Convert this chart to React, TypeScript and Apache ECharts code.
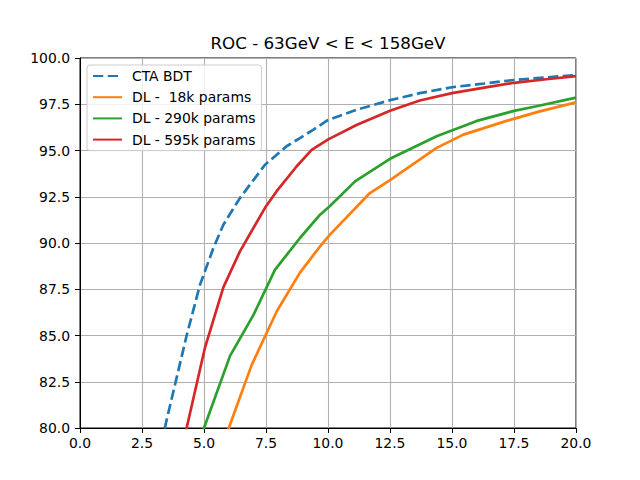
import React, { useEffect, useRef } from "react";
import * as echarts from "echarts";

const bdtX = [3.3, 3.47, 4.3, 4.84, 5.38, 5.78, 6.45, 7.46, 8.33, 8.9, 9.4, 10.0, 11.15, 12.5, 13.7, 15.0, 16.3, 17.5, 18.8, 20];
const bdtY = [79.2, 80.3, 85.0, 87.75, 89.73, 90.99, 92.43, 94.23, 95.23, 95.7, 96.12, 96.65, 97.2, 97.72, 98.1, 98.42, 98.62, 98.81, 98.95, 99.08];

const dl18X = [5.95, 6.0, 6.92, 7.93, 8.87, 9.68, 10.08, 11.69, 12.5, 14.38, 15.46, 17.2, 18.5, 20];
const dl18Y = [79.6, 80.0, 83.4, 86.3, 88.4, 89.82, 90.45, 92.7, 93.4, 95.14, 95.86, 96.6, 97.1, 97.6];

const dl290X = [4.95, 5.0, 6.05, 6.99, 7.86, 8.87, 9.68, 10.08, 11.09, 12.5, 14.38, 16.0, 17.5, 18.41, 20];
const dl290Y = [79.7, 80.0, 83.9, 86.1, 88.55, 90.27, 91.53, 92.0, 93.33, 94.55, 95.77, 96.6, 97.14, 97.39, 97.86];

const dl595X = [4.2, 4.3, 5.04, 5.78, 6.45, 7.46, 7.93, 8.74, 9.34, 10.01, 11.15, 12.5, 13.7, 15.0, 16.3, 17.5, 18.8, 20];
const dl595Y = [79.4, 80.0, 84.35, 87.6, 89.55, 91.9, 92.8, 94.15, 95.03, 95.6, 96.38, 97.15, 97.7, 98.1, 98.4, 98.66, 98.85, 99.02];

const seriesNames = ["CTA BDT", "DL -  18k params", "DL - 290k params", "DL - 595k params"];
const seriesColors = ["#1f77b4", "#ff7f0e", "#2ca02c", "#d62728"];
const title = "ROC - 63GeV < E < 158GeV";

const FONT = "DejaVu Sans";

function pairs(xs: number[], ys: number[]) {
  return xs.map((x, i) => [x, ys[i]]);
}

export default function App() {
  const ref = useRef<HTMLDivElement>(null);
  useEffect(() => {
    if (!ref.current) return;
    const chart = echarts.init(ref.current, undefined, { renderer: "svg" });
    const datasets = [pairs(bdtX, bdtY), pairs(dl18X, dl18Y), pairs(dl290X, dl290Y), pairs(dl595X, dl595Y)];
    chart.setOption({
      animation: false,
      backgroundColor: "#ffffff",
      title: {
        text: title,
        left: 328,
        top: 34,
        textAlign: "center",
        padding: 0,
        textStyle: { fontFamily: FONT, fontSize: 16.7, fontWeight: "normal", color: "#000" },
      },
      legend: {
        orient: "vertical",
        left: 87,
        top: 65,
        padding: [4, 6, 4, 5],
        itemWidth: 29,
        itemHeight: 14,
        itemGap: 7.2,
        backgroundColor: "rgba(255,255,255,0.8)",
        borderColor: "#cccccc",
        borderWidth: 1,
        borderRadius: 3,
        data: seriesNames,
        itemStyle: { opacity: 0, borderWidth: 0 },
        textStyle: { fontFamily: FONT, fontSize: 13.9, color: "#000", padding: [0, 0, 0, 5] },
      },
      grid: {
        left: 80,
        top: 58,
        width: 496,
        height: 370,
        show: true,
        borderColor: "#000",
        borderWidth: 1,
        backgroundColor: "transparent",
      },
      xAxis: {
        type: "value",
        min: 0,
        max: 20,
        interval: 2.5,
        axisLine: { show: true, lineStyle: { color: "#000", width: 1 } },
        axisTick: { show: true, inside: false, length: 5, lineStyle: { color: "#000", width: 1 } },
        axisLabel: {
          margin: 8,
          fontFamily: FONT,
          fontSize: 13.9,
          color: "#000",
          formatter: (v: number) => v.toFixed(1),
        },
        splitLine: { show: true, lineStyle: { color: "#b0b0b0", width: 1.1 } },
      },
      yAxis: {
        type: "value",
        min: 80,
        max: 100,
        interval: 2.5,
        axisLine: { show: true, lineStyle: { color: "#000", width: 1 } },
        axisTick: { show: true, inside: false, length: 5, lineStyle: { color: "#000", width: 1 } },
        axisLabel: {
          margin: 10,
          fontFamily: FONT,
          fontSize: 13.9,
          color: "#000",
          formatter: (v: number) => v.toFixed(1),
        },
        splitLine: { show: true, lineStyle: { color: "#b0b0b0", width: 1.1 } },
      },
      series: seriesNames.map((name, i) => ({
        name,
        type: "line",
        data: datasets[i],
        symbol: "none",
        showSymbol: false,
        clip: true,
        color: seriesColors[i],
        lineStyle: {
          color: seriesColors[i],
          width: 2.7,
          type: i === 0 ? [10.3, 4.4] : "solid",
          cap: "butt",
        },
        z: 2 + i,
      })),
    });
    return () => chart.dispose();
  }, []);
  return (
    <div
      ref={ref}
      style={{ position: "fixed", left: 0, top: 0, width: 640, height: 480 }}
    />
  );
}
